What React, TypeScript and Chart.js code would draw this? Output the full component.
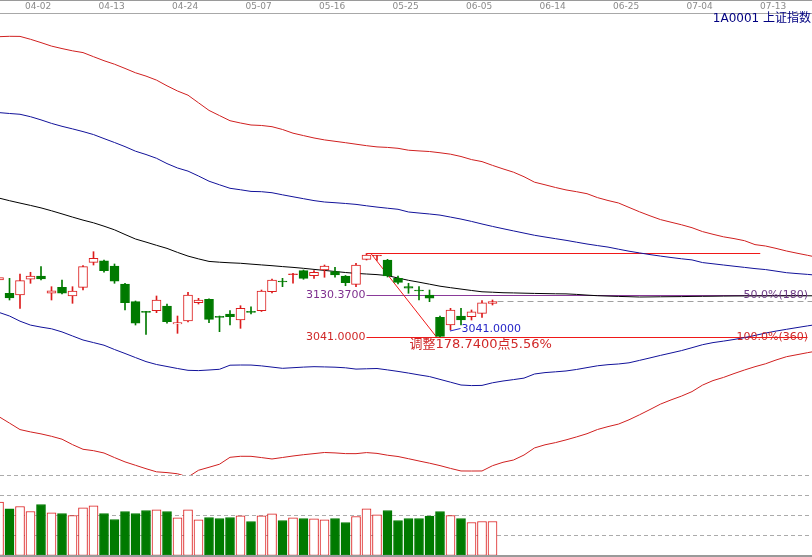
import React, { useEffect, useRef } from 'react';
import { Chart, registerables } from 'chart.js';

Chart.register(...registerables);

const W = 812;
const H = 557;

// top axis tick labels and the candle index each one marks
const dateLabels = ['04-02', '04-13', '04-24', '05-07', '05-16', '05-25', '06-05', '06-14', '06-25', '07-04', '07-13'];
const dateTickIdx = [3, 10, 17, 24, 31, 38, 45, 52, 59, 66, 73];

const title = '1A0001 上证指数';

// daily candles
const opens = [3163.2, 3134.7, 3131.0, 3164.7, 3171.7, 3134.7, 3147.5, 3128.9, 3147.5, 3201.1,
  3204.5, 3193.2, 3154.6, 3116.7, 3095.2, 3097.4, 3107.4, 3068.9, 3075.3, 3114.5,
  3121.8, 3084.5, 3090.3, 3077.4, 3095.2, 3097.4, 3138.1, 3160.4, 3174.5, 3183.1,
  3172.4, 3184.6, 3181.0, 3171.7, 3153.9, 3207.5, 3214.6, 3206.0, 3166.8, 3148.8,
  3141.1, 3131.0, 3083.2, 3066.7, 3086.0, 3084.5, 3091.8, 3113.2];
const highs = [3171.7, 3166.8, 3176.0, 3179.7, 3191.7, 3148.8, 3163.2, 3148.8, 3193.8, 3223.8,
  3205.6, 3197.5, 3156.1, 3118.2, 3096.1, 3128.9, 3111.7, 3086.0, 3136.8, 3123.9,
  3122.9, 3086.0, 3097.4, 3108.1, 3105.9, 3141.7, 3165.3, 3166.8, 3177.5, 3184.6,
  3183.1, 3195.3, 3190.4, 3172.8, 3199.0, 3219.74, 3216.1, 3207.5, 3171.7, 3156.1,
  3148.8, 3141.7, 3086.0, 3102.5, 3102.5, 3098.9, 3118.8, 3120.3];
const lows = [3154.6, 3120.3, 3102.5, 3156.1, 3163.2, 3120.3, 3133.2, 3113.2, 3141.7, 3195.3,
  3179.7, 3156.1, 3098.9, 3066.7, 3046.8, 3093.1, 3070.4, 3048.9, 3073.2, 3111.7,
  3071.7, 3052.4, 3066.7, 3059.6, 3090.3, 3095.7, 3135.3, 3148.8, 3156.1, 3164.7,
  3166.8, 3169.0, 3169.0, 3150.9, 3148.8, 3206.0, 3205.0, 3169.6, 3154.6, 3134.7,
  3120.3, 3116.7, 3041.0, 3056.0, 3066.7, 3077.4, 3083.2, 3109.6];
const closes = [3168.5, 3124.6, 3161.7, 3171.7, 3165.3, 3140.2, 3134.7, 3139.6, 3191.7, 3209.7,
  3183.1, 3160.4, 3114.5, 3070.4, 3093.9, 3120.3, 3073.8, 3071.7, 3131.0, 3120.3,
  3078.9, 3083.2, 3084.5, 3102.5, 3093.9, 3139.6, 3163.2, 3158.9, 3176.0, 3166.8,
  3179.7, 3193.2, 3173.9, 3157.4, 3195.3, 3216.7, 3215.4, 3171.7, 3158.2, 3145.4,
  3139.6, 3124.0, 3042.5, 3098.9, 3077.4, 3095.2, 3114.5, 3116.7];
const volumes = [2670, 2330, 2450, 2200, 2550, 2130, 2100, 2000, 2380, 2480,
  2100, 1800, 2200, 2100, 2250, 2280, 2200, 1880, 2280, 1780,
  1900, 1850, 1900, 1980, 1700, 1980, 2080, 1750, 1880, 1850,
  1830, 1780, 1850, 1650, 1950, 2330, 2030, 2250, 1750, 1850,
  1850, 1970, 2200, 2000, 1850, 1650, 1700, 1700];

// band lines (extend into the future)
const upperRed = [3684.6, 3685.4, 3685.2, 3679.0, 3671.9, 3664.4, 3659.1, 3654.3, 3650.5, 3641.7,
  3633.1, 3625.6, 3616.6, 3607.2, 3600.1, 3591.5, 3579.3, 3568.2, 3559.2, 3542.9,
  3526.6, 3515.5, 3504.5, 3499.6, 3495.3, 3494.3, 3491.7, 3485.7, 3477.8, 3472.6,
  3467.5, 3463.4, 3460.4, 3457.4, 3454.2, 3451.0, 3448.4, 3447.3, 3445.4, 3441.3,
  3439.8, 3438.5, 3435.8, 3432.8, 3427.8, 3421.2, 3416.9, 3408.8, 3401.3, 3394.2,
  3384.5, 3372.8, 3367.2, 3361.4, 3356.2, 3352.4, 3348.1, 3339.7, 3333.5, 3328.2,
  3318.7, 3309.3, 3300.7, 3292.6, 3287.0, 3281.5, 3275.2, 3266.9, 3261.1, 3255.7,
  3251.9, 3247.4, 3239.0, 3236.0, 3230.9, 3225.3, 3220.6, 3216.1, 3211.4];
const upperBlue = [3521.9, 3520.0, 3518.3, 3513.1, 3506.3, 3498.8, 3492.5, 3487.0, 3481.2, 3474.8,
  3466.2, 3457.8, 3449.0, 3439.2, 3432.1, 3424.0, 3412.6, 3403.2, 3396.5, 3386.0,
  3374.9, 3367.2, 3359.7, 3356.5, 3353.0, 3352.4, 3350.2, 3345.7, 3341.5, 3337.4,
  3333.3, 3330.3, 3328.8, 3327.1, 3325.2, 3322.2, 3319.4, 3317.0, 3314.7, 3308.9,
  3306.7, 3304.6, 3302.2, 3298.0, 3293.7, 3288.7, 3283.2, 3278.0, 3273.1, 3268.4,
  3263.7, 3259.0, 3255.3, 3251.7, 3248.2, 3244.2, 3240.3, 3236.9, 3233.7, 3229.2,
  3224.9, 3221.2, 3217.6, 3214.4, 3211.4, 3208.6, 3206.2, 3200.5, 3197.9, 3195.3,
  3192.7, 3190.2, 3187.6, 3185.5, 3182.2, 3178.8, 3176.9, 3175.2, 3173.2];
const midBlack = [3338.7, 3333.1, 3328.0, 3323.0, 3317.7, 3311.5, 3304.8, 3298.0, 3291.5, 3285.7,
  3278.5, 3270.7, 3260.7, 3251.0, 3244.4, 3237.5, 3230.9, 3222.3, 3214.4, 3208.4,
  3203.0, 3201.3, 3200.0, 3199.0, 3197.2, 3195.5, 3193.8, 3191.9, 3190.2, 3188.2,
  3185.9, 3183.7, 3181.4, 3179.2, 3177.3, 3176.0, 3174.7, 3172.6, 3167.4, 3162.5,
  3158.5, 3154.2, 3149.9, 3146.7, 3143.7, 3140.7, 3137.9, 3137.0, 3135.9, 3135.5,
  3134.9, 3134.4, 3134.0, 3133.6, 3133.4, 3132.3, 3130.8, 3129.5, 3128.7, 3128.0,
  3127.4, 3126.7, 3126.9, 3127.2, 3127.4, 3127.6, 3128.0, 3128.2, 3128.4, 3128.7,
  3128.9, 3129.0, 3129.1, 3129.1, 3129.2, 3129.2, 3129.3, 3129.3, 3129.4];
const lowerBlue = [3093.7, 3086.0, 3074.9, 3066.5, 3062.2, 3058.6, 3051.9, 3043.2, 3034.6, 3029.0,
  3023.4, 3014.2, 3005.7, 2996.9, 2988.3, 2982.1, 2977.8, 2973.5, 2969.6, 2969.0,
  2970.3, 2971.8, 2980.6, 2981.0, 2980.9, 2979.1, 2976.5, 2973.9, 2975.2, 2976.5,
  2977.4, 2976.9, 2976.3, 2975.0, 2972.2, 2972.9, 2973.5, 2970.5, 2967.3, 2963.7,
  2959.8, 2956.2, 2950.2, 2944.2, 2938.1, 2936.9, 2937.3, 2942.9, 2946.7, 2949.7,
  2952.9, 2961.7, 2964.7, 2966.4, 2968.2, 2971.4, 2975.4, 2979.3, 2981.7, 2983.2,
  2985.7, 2990.9, 2996.2, 3001.6, 3006.7, 3011.9, 3018.1, 3024.5, 3029.0, 3032.2,
  3035.7, 3039.7, 3044.4, 3049.4, 3053.7, 3057.5, 3061.2, 3064.8, 3068.2];
const lowerRed = [2870.2, 2856.5, 2842.6, 2837.6, 2833.4, 2828.2, 2822.0, 2810.4, 2800.4, 2797.4,
  2792.4, 2782.6, 2773.4, 2766.1, 2758.8, 2752.1, 2750.4, 2747.9, 2741.0, 2755.4,
  2761.8, 2768.4, 2783.2, 2785.4, 2785.3, 2782.6, 2779.6, 2782.8, 2786.0, 2788.8,
  2791.1, 2793.5, 2792.6, 2791.1, 2791.0, 2793.3, 2791.6, 2787.7, 2784.9, 2780.2,
  2775.3, 2770.6, 2765.4, 2759.4, 2753.9, 2753.8, 2753.9, 2765.2, 2772.5, 2777.4,
  2788.1, 2803.3, 2810.0, 2814.7, 2820.5, 2826.9, 2833.8, 2842.8, 2849.0, 2854.4,
  2863.6, 2874.3, 2885.6, 2897.2, 2906.2, 2914.4, 2924.0, 2937.9, 2947.6, 2954.4,
  2962.6, 2970.3, 2977.4, 2983.6, 2991.7, 2998.8, 3003.1, 3007.4, 3011.4];

// retracement drawing
const fibHigh = 3219.74;
const fibMid = 3130.37;
const fibLow = 3041.0;
const fibHighIdx = 35;
const fibLowIdx = 42;
const fibHighEndIdx = 72.5;
const fibLevelEndIdx = 77;
const fibMidLabel = '50.0%(180)';
const fibLowLabel = '100.0%(360)';
const adjustLabel = '调整178.7400点5.56%';

// volume grid levels
const volGrid = [1000, 2000, 3000, 4000];

const RED = '#dc1c1c';
const GREEN = '#007a00';
const BAND_RED = '#d02020';
const BAND_BLUE = '#12129a';
const PURPLE = '#8a3a9a';
const FIB_RED = '#f01818';

const priceClip = { left: 0, top: -14, right: 0, bottom: -82 };

export default function App() {
  const ref = useRef<HTMLCanvasElement | null>(null);

  useEffect(() => {
    document.body.style.margin = '0';
    document.documentElement.style.overflow = 'hidden';
    const canvas = ref.current;
    if (!canvas) return;

    const isUp = opens.map((o, i) => closes[i] >= o);
    const candleColor = isUp.map((u) => (u ? RED : GREEN));
    const bodyFill = opens.map((o, i) =>
      isUp[i] ? (Math.abs(closes[i] - o) < 2.5 ? RED : '#ffffff') : GREEN
    );
    const volFill = isUp.map((u) => (u ? '#ffffff' : GREEN));

    const lineDs = (arr: number[], color: string) => ({
      type: 'line' as const,
      data: arr.map((v, i) => ({ x: i, y: v })),
      borderColor: color,
      borderWidth: 1,
      pointRadius: 0,
      tension: 0,
      yAxisID: 'y',
      xAxisID: 'x',
      order: 3,
      clip: priceClip,
    });

    const px = (c: any, i: number) => c.scales.x.getPixelForValue(i);
    const py = (c: any, v: number) => c.scales.y.getPixelForValue(v);
    const crisp = (v: number) => Math.floor(v) + 0.5;
    const seg = (ctx: CanvasRenderingContext2D, x1: number, y1: number, x2: number, y2: number) => {
      ctx.beginPath();
      ctx.moveTo(x1, y1);
      ctx.lineTo(x2, y2);
      ctx.stroke();
    };
    const txt = (ctx: CanvasRenderingContext2D, s: string, x: number, y: number, font: string, color: string, align: CanvasTextAlign) => {
      ctx.font = font;
      ctx.fillStyle = color;
      ctx.textAlign = align;
      ctx.textBaseline = 'middle';
      ctx.fillText(s, x, y);
    };

    const deco = {
      id: 'deco',
      beforeDatasetsDraw(c: any) {
        const ctx: CanvasRenderingContext2D = c.ctx;
        ctx.save();
        ctx.lineWidth = 1;
        // volume grid
        ctx.strokeStyle = '#ababab';
        ctx.setLineDash([4, 3]);
        volGrid.forEach((v) => {
          const y = crisp(c.scales.yv.getPixelForValue(v));
          seg(ctx, 0, y, W, y);
        });
        // last close dashed line
        ctx.strokeStyle = '#a0a0a0';
        ctx.setLineDash([6, 4]);
        const lastI = closes.length - 1;
        const yc = crisp(py(c, closes[lastI]));
        seg(ctx, px(c, lastI) + 5, yc, W, yc);
        ctx.setLineDash([]);
        // retracement lines
        const yH = crisp(py(c, fibHigh));
        const yM = crisp(py(c, fibMid));
        const yL = crisp(py(c, fibLow));
        const x0 = px(c, fibHighIdx);
        ctx.strokeStyle = FIB_RED;
        seg(ctx, x0, yH, px(c, fibHighEndIdx), yH);
        seg(ctx, x0, yL, px(c, fibLevelEndIdx), yL);
        ctx.strokeStyle = PURPLE;
        seg(ctx, x0, yM, px(c, fibLevelEndIdx), yM);
        ctx.strokeStyle = FIB_RED;
        seg(ctx, x0 + 4.5, py(c, fibHigh), px(c, fibLowIdx) - 3.5, py(c, fibLow));
        ctx.restore();
      },
      afterDatasetsDraw(c: any) {
        const ctx: CanvasRenderingContext2D = c.ctx;
        ctx.save();
        const fibFont = "11px 'DejaVu Sans'";
        const x0 = px(c, fibHighIdx);
        const yM = py(c, fibMid);
        const yL = py(c, fibLow);
        txt(ctx, fibMid.toFixed(4), x0 - 1, yM, fibFont, '#7e2e8e', 'right');
        txt(ctx, fibLow.toFixed(4), x0 - 1, yL, fibFont, '#d02828', 'right');
        txt(ctx, fibMidLabel, 808, yM, fibFont, '#6e3c86', 'right');
        txt(ctx, fibLowLabel, 808, yL, fibFont, '#d02828', 'right');
        // low marker
        const xl = px(c, fibLowIdx);
        ctx.strokeStyle = '#2626c8';
        ctx.lineWidth = 1;
        seg(ctx, xl + 10, yL - 6, xl + 20.5, yL - 8.5);
        txt(ctx, fibLow.toFixed(4), xl + 21.5, yL - 7.5, fibFont, '#2626c8', 'left');
        txt(ctx, adjustLabel, x0 + 43, yL + 7.5, "13px 'DejaVu Sans', 'Noto Sans CJK SC'", '#d02828', 'left');
        // top date band
        ctx.fillStyle = '#ffffff';
        ctx.fillRect(0, 0, W, 13);
        ctx.fillStyle = '#9a9a9a';
        ctx.fillRect(0, 0, W, 1);
        ctx.fillStyle = '#a8a8a8';
        ctx.fillRect(0, 13, W, 1);
        dateLabels.forEach((d, k) => {
          txt(ctx, d, px(c, dateTickIdx[k]) - 5.5, 7, "9px 'DejaVu Sans'", '#8a8a8a', 'left');
        });
        txt(ctx, title, 811, 18.5, "12px 'DejaVu Sans', 'Noto Sans CJK SC'", '#000080', 'right');
        // bottom border
        ctx.fillStyle = '#9a9a9a';
        ctx.fillRect(0, 555, W, 2);
        ctx.restore();
      },
    };

    const chart = new Chart(canvas, {
      type: 'bar',
      data: {
        datasets: [
          {
            type: 'bar',
            data: opens.map((o, i) => ({ x: i, y: [o, closes[i]] })) as any,
            backgroundColor: bodyFill,
            borderColor: candleColor,
            borderWidth: 1,
            borderSkipped: false,
            barThickness: 9,
            minBarLength: 1,
            grouped: false,
            xAxisID: 'x',
            yAxisID: 'y',
            order: 1,
            clip: priceClip,
          } as any,
          {
            type: 'bar',
            data: lows.map((l, i) => ({ x: i, y: [l, highs[i]] })) as any,
            backgroundColor: candleColor,
            borderWidth: 0,
            barThickness: 1,
            grouped: false,
            xAxisID: 'x',
            yAxisID: 'y',
            order: 2,
            clip: priceClip,
          } as any,
          lineDs(upperRed, BAND_RED) as any,
          lineDs(upperBlue, BAND_BLUE) as any,
          lineDs(midBlack, '#000000') as any,
          lineDs(lowerBlue, BAND_BLUE) as any,
          lineDs(lowerRed, BAND_RED) as any,
          {
            type: 'bar',
            data: volumes.map((v, i) => ({ x: i, y: v })) as any,
            backgroundColor: volFill,
            borderColor: candleColor,
            borderWidth: 1,
            borderSkipped: false,
            barThickness: 9,
            grouped: false,
            xAxisID: 'x',
            yAxisID: 'yv',
            order: 8,
          } as any,
        ],
      },
      options: {
        responsive: false,
        maintainAspectRatio: false,
        animation: false,
        devicePixelRatio: 1,
        events: [],
        layout: { padding: 0 },
        plugins: { legend: { display: false }, tooltip: { enabled: false } },
        scales: {
          x: { type: 'linear', min: 0.095, max: 0.095 + W / 10.5, offset: false, display: false },
          y: { type: 'linear', min: 2569.55, max: 3763.2, beginAtZero: false, display: false },
          yv: { type: 'linear', min: -75, max: 27775, beginAtZero: false, display: false },
        },
      } as any,
      plugins: [deco],
    });

    return () => chart.destroy();
  }, []);

  return (
    <div style={{ position: 'absolute', left: 0, top: 0, width: W, height: H, background: '#ffffff' }}>
      <canvas ref={ref} width={W} height={H} style={{ display: 'block', width: W, height: H }} />
    </div>
  );
}
